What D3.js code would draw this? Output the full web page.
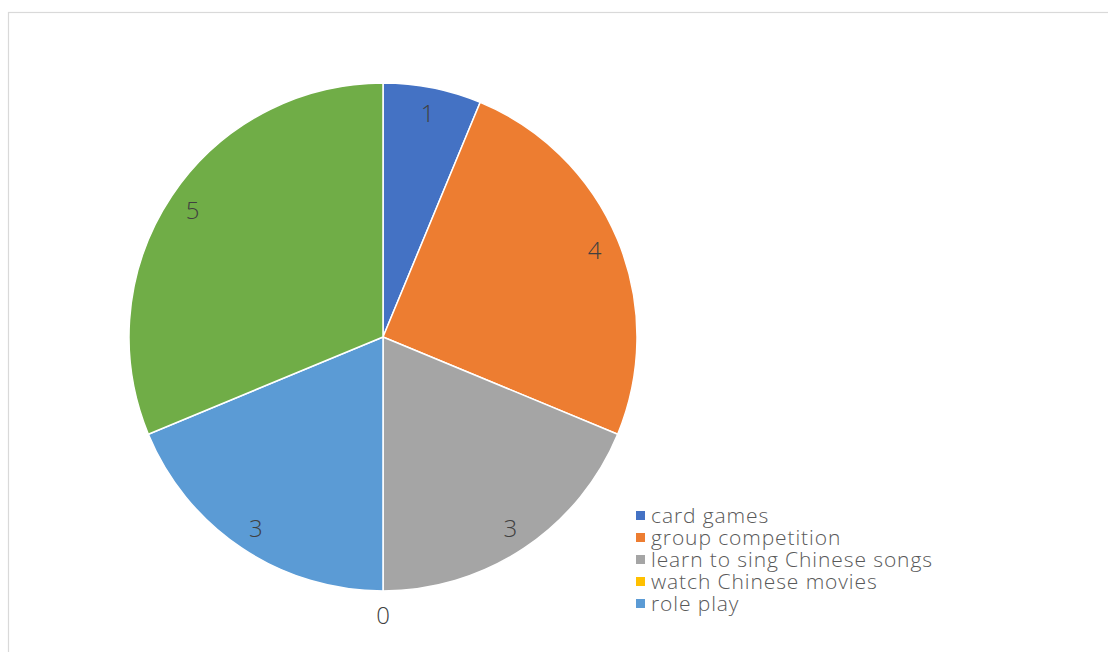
<!DOCTYPE html>
<html>
<head>
<meta charset="utf-8">
<script src="https://cdn.jsdelivr.net/npm/d3@7"></script>
<style>
  html, body { margin: 0; padding: 0; background: #fff; }
  svg { display: block; }
</style>
</head>
<body>
<svg id="chart" width="1108" height="652"></svg>
<script>
// Activity preferences (pie slices, clockwise from 12 o'clock)
const categories = ["card games", "group competition", "learn to sing Chinese songs", "watch Chinese movies", "role play", "other"];
const values = [1, 4, 3, 0, 3, 5];
const colors = ["#4472C4", "#ED7D31", "#A5A5A5", "#FFC000", "#5B9BD5", "#70AD47"];
// Legend rows that are shown
const legendItems = categories.slice(0, 5);

const svg = d3.select("#chart");
const W = 1108, H = 652;
const font = "'Open Sans', 'Noto Sans', sans-serif";

// chart frame
svg.append("rect")
  .attr("x", 8.5).attr("y", 12.5)
  .attr("width", W + 10).attr("height", H)
  .attr("fill", "#fff")
  .attr("stroke", "#d9d9d9").attr("stroke-width", 1.2);

const cx = 383, cy = 337, R = 254;

const pie = d3.pie().sort(null).value(d => d.value);
const data = pie(categories.map((c, i) => ({ name: c, value: values[i], color: colors[i] })));

const arc = d3.arc().innerRadius(0).outerRadius(R);
const g = svg.append("g").attr("transform", `translate(${cx},${cy})`);

g.selectAll("path.slice")
  .data(data.filter(d => d.data.value > 0))
  .join("path")
  .attr("class", "slice")
  .attr("d", arc)
  .attr("fill", d => d.data.color)
  .attr("stroke", "#fff")
  .attr("stroke-width", 1.5)
  .attr("stroke-linejoin", "round");

// value labels: inside for non-empty slices, just outside the rim for empty ones
const labelSize = 24;
const labelArc = d3.arc().innerRadius(229).outerRadius(229);
const outerArc = d3.arc().innerRadius(277).outerRadius(277);

g.selectAll("text.val")
  .data(data)
  .join("text")
  .attr("class", "val")
  .attr("transform", d => {
    const [x, y] = (d.data.value > 0 ? labelArc : outerArc).centroid(d);
    return `translate(${x},${y + 1 + labelSize * 0.36})`;
  })
  .attr("text-anchor", "middle")
  .attr("font-family", font)
  .attr("font-weight", 300)
  .attr("font-size", labelSize)
  .attr("fill", "#404040")
  .text(d => d.data.value);

// legend
const legend = svg.append("g").attr("transform", "translate(636,516)");
const rowH = 22;
const rows = legend.selectAll("g.item")
  .data(legendItems)
  .join("g")
  .attr("class", "item")
  .attr("transform", (d, i) => `translate(0,${i * rowH})`);

rows.append("rect")
  .attr("x", 0).attr("y", -5)
  .attr("width", 9).attr("height", 9)
  .attr("fill", (d, i) => colors[i]);

rows.append("text")
  .attr("x", 15).attr("y", 7)
  .attr("font-family", font)
  .attr("font-weight", 300)
  .attr("font-size", 21)
  .attr("letter-spacing", 0.9)
  .attr("fill", "#595959")
  .text(d => d);
</script>
</body>
</html>
